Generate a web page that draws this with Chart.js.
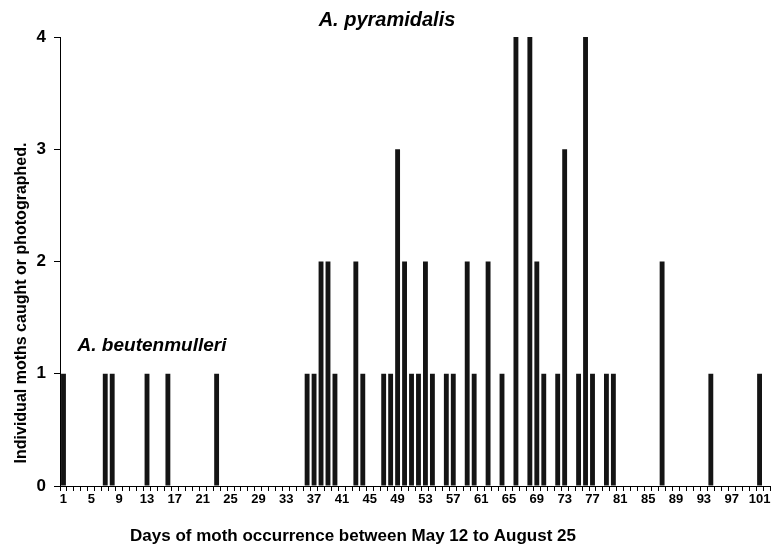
<!DOCTYPE html>
<html>
<head>
<meta charset="utf-8">
<script src="https://cdn.jsdelivr.net/npm/chart.js@4.4.0/dist/chart.umd.min.js"></script>
<style>
    html, body { margin: 0; padding: 0; background: #fff; }
    canvas { display: block; }
</style>
</head>
<body>
<canvas id="moth-chart" width="773" height="554"></canvas>
<script>
// number of day slots on the x axis
let dayCount = 102;

// days on which moths were seen, and how many
let occurrenceDays = [1, 7, 8, 13, 16, 23, 36, 37, 38, 39, 40, 43, 44, 47, 48, 49, 50, 51, 52, 53, 54,
    56, 57, 59, 60, 62, 64, 66, 68, 69, 70, 72, 73, 75, 76, 77, 79, 80, 87, 94, 101];
let mothCounts = [1, 1, 1, 1, 1, 1, 1, 1, 2, 2, 1, 2, 1, 1, 1, 3, 2, 1, 1, 2, 1,
    1, 1, 2, 1, 2, 1, 4, 4, 2, 1, 1, 3, 1, 4, 1, 1, 1, 2, 1, 1];

// labelled days on the x axis
let xTickLabels = ['1', '5', '9', '13', '17', '21', '25', '29', '33', '37', '41', '45', '49', '53',
    '57', '61', '65', '69', '73', '77', '81', '85', '89', '93', '97', '101'];

let fontFamily = '"Liberation Sans", Arial, Helvetica, sans-serif';


window.onload = function () {
    // build the category table for chart.js
    let dayLabels = [];
    let dayValues = [];
    for (let i = 1; i <= dayCount; i++) {
        dayLabels.push(String(i));
        let idx = occurrenceDays.indexOf(i);
        dayValues.push(idx >= 0 ? mothCounts[idx] : 0);
    }

    // 軸タイトルと種名を描く
    const textPlugin = {
        id: 'textPlugin',
        afterDraw(chart) {
            let ctx = chart.ctx;
            let ys = chart.scales.y;
            ctx.save();
            ctx.fillStyle = '#000';
            ctx.textAlign = 'center';
            ctx.textBaseline = 'middle';

            ctx.font = 'italic bold 20px ' + fontFamily;
            ctx.fillText('A. pyramidalis', 387, 20);
            ctx.font = 'italic bold 19px ' + fontFamily;
            ctx.fillText('A. beutenmulleri', 152, ys.getPixelForValue(1.25));

            ctx.font = 'bold 17px ' + fontFamily;
            ctx.fillText('Days of moth occurrence between May 12 to August 25', 353, 536);

            ctx.translate(22, 303);
            ctx.rotate(-Math.PI / 2);
            ctx.font = 'bold 16px ' + fontFamily;
            ctx.fillText('Individual moths caught or photographed.', 0, 0);
            ctx.restore();
        }
    };

    let ctx = document.getElementById('moth-chart').getContext('2d');
    let chart = new Chart(ctx, {
        type: 'bar',
        data: {
            labels: dayLabels,
            datasets: [{
                data: dayValues,
                backgroundColor: '#141414',
                borderWidth: 0,
                barPercentage: 0.7,
                categoryPercentage: 1.0
            }]
        },
        options: {
            responsive: false,
            animation: false,
            devicePixelRatio: 1,
            layout: {
                padding: { top: 37, right: 3, bottom: 0, left: 0 }
            },
            plugins: {
                legend: { display: false },
                tooltip: { enabled: false }
            },
            scales: {
                x: {
                    afterFit: function (scale) { scale.height = 68; },
                    grid: {
                        drawOnChartArea: false,
                        drawTicks: true,
                        tickLength: 5,
                        color: '#000'
                    },
                    border: { color: '#000', width: 1 },
                    ticks: {
                        autoSkip: false,
                        maxRotation: 0,
                        padding: 1,
                        color: '#000',
                        font: { family: fontFamily, size: 13, weight: 'bold' },
                        callback: function (value) {
                            let label = this.getLabelForValue(value);
                            return xTickLabels.indexOf(label) >= 0 ? label : '';
                        }
                    }
                },
                y: {
                    min: 0,
                    max: 4,
                    afterFit: function (scale) { scale.width = 60; },
                    grid: {
                        drawOnChartArea: false,
                        drawTicks: true,
                        tickLength: 6,
                        color: '#000'
                    },
                    border: { color: '#000', width: 1 },
                    ticks: {
                        stepSize: 1,
                        padding: 8,
                        color: '#000',
                        font: { family: fontFamily, size: 17, weight: 'bold' }
                    }
                }
            }
        },
        plugins: [textPlugin]
    });
}
</script>
</body>
</html>
